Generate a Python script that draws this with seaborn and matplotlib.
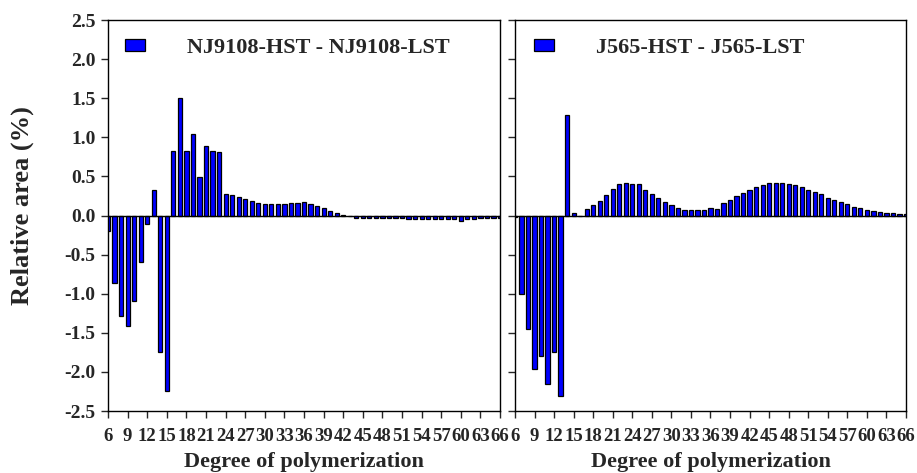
import matplotlib
matplotlib.use("Agg")
import matplotlib.pyplot as plt
import seaborn as sns
import numpy as np
import pandas as pd

# Degree of polymerization (DP 6 .. 66)
dp = list(range(6, 67))

# Relative area difference (%), NJ9108-HST minus NJ9108-LST
nj9108_diff = [
    -0.20, -0.86, -1.29, -1.41, -1.09, -0.59, -0.11, 0.32, -1.74, -2.25,   # 6-15
    0.83, 1.50, 0.83, 1.04, 0.49, 0.89, 0.83, 0.81, 0.27, 0.26,           # 16-25
    0.24, 0.21, 0.19, 0.16, 0.15, 0.145, 0.145, 0.145, 0.16, 0.165,       # 26-35
    0.17, 0.145, 0.12, 0.09, 0.064, 0.03, 0.005, -0.01, -0.03, -0.035,    # 36-45
    -0.035, -0.035, -0.035, -0.035, -0.035, -0.035, -0.04, -0.04, -0.04, -0.045,  # 46-55
    -0.045, -0.045, -0.045, -0.04, -0.065, -0.045, -0.045, -0.035, -0.035, -0.03,  # 56-65
    -0.03,                                                                 # 66
]

# Relative area difference (%), J565-HST minus J565-LST
j565_diff = [
    -0.02, -1.00, -1.45, -1.96, -1.80, -2.16, -1.74, -2.31, 1.29, 0.034,  # 6-15
    -0.01, 0.085, 0.13, 0.18, 0.265, 0.34, 0.40, 0.42, 0.40, 0.40,        # 16-25
    0.32, 0.28, 0.23, 0.175, 0.13, 0.10, 0.077, 0.073, 0.073, 0.077,      # 26-35
    0.094, 0.081, 0.154, 0.197, 0.248, 0.29, 0.33, 0.37, 0.39, 0.41,      # 36-45
    0.41, 0.41, 0.40, 0.385, 0.36, 0.33, 0.295, 0.27, 0.23, 0.197,        # 46-55
    0.17, 0.145, 0.11, 0.094, 0.073, 0.056, 0.047, 0.034, 0.03, 0.021,    # 56-65
    0.015,                                                                 # 66
]

series_labels = ["NJ9108-HST - NJ9108-LST", "J565-HST - J565-LST"]
x_ticks = list(range(6, 67, 3))
y_ticks = [-2.5, -2.0, -1.5, -1.0, -0.5, 0.0, 0.5, 1.0, 1.5, 2.0, 2.5]

sns.set_style("ticks")
plt.rcParams["font.family"] = ["Liberation Serif", "DejaVu Serif"]
plt.rcParams["font.weight"] = "bold"
plt.rcParams["axes.linewidth"] = 1.0

fig = plt.figure(figsize=(9.17, 4.73), dpi=100)
ax1 = fig.add_axes([0.1178, 0.131, 0.4275, 0.8267])
ax2 = fig.add_axes([0.5616, 0.131, 0.4264, 0.8267])

for ax, values, label, lx in [
    (ax1, nj9108_diff, series_labels[0], 0.043),
    (ax2, j565_diff, series_labels[1], 0.049),
]:
    df = pd.DataFrame({"dp": dp, "diff": values})
    sns.barplot(data=df, x="dp", y="diff", native_scale=True, width=0.65,
                color="#0000ff", saturation=1, edgecolor="black",
                linewidth=0.9, label=label, ax=ax)
    ax.axhline(0, color="black", lw=1.0, zorder=3)
    ax.set_xlim(6, 66)
    ax.set_ylim(-2.5, 2.5)
    ax.set_xticks(x_ticks)
    ax.set_yticks(y_ticks)
    ax.tick_params(direction="out", length=5, width=1)
    ax.tick_params(axis="x", labelsize=13.5, pad=7)
    ax.tick_params(axis="y", labelsize=14, pad=4)
    for s in ax.spines.values():
        s.set_visible(True)
        s.set_color("black")
    ax.set_xlabel("Degree of polymerization", fontsize=16, fontweight="bold", labelpad=5)
    ax.legend(loc="upper left", bbox_to_anchor=(lx, 0.955), frameon=False,
              borderaxespad=0, borderpad=0, handlelength=0.9,
              handleheight=0.45, handletextpad=1.9,
              prop={"size": 16, "weight": "bold"})

ax1.set_yticklabels([f"{v:.1f}" for v in y_ticks])
ax1.set_ylabel("Relative area (%)", fontsize=19, fontweight="bold")
ax1.yaxis.set_label_coords(-0.189, 0.526)
ax2.set_ylabel("")
ax2.set_yticklabels([])

fig.savefig("out.png", dpi=100)
